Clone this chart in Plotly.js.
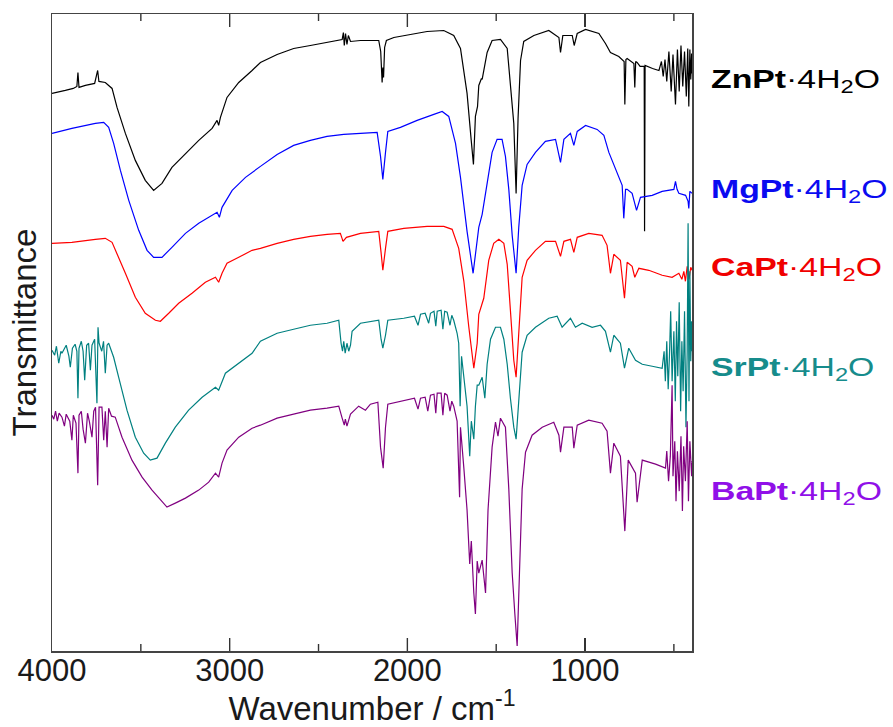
<!DOCTYPE html>
<html>
<head>
<meta charset="utf-8">
<script src="https://cdn.plot.ly/plotly-3.0.1.min.js"></script>
<style>html,body{margin:0;padding:0;background:#fff;}#chart{width:893px;height:727px;}</style>
</head>
<body>
<div id="chart"></div>
<script>
// Sample names (legend labels drawn at the right of the spectra)
const sampleNames = ["ZnPt", "MgPt", "CaPt", "SrPt", "BaPt"];
const hydrate = "·4H<sub>2</sub>O";
const xTickStep = 1000;
const majorTickVals = [3000, 2000, 1000];
const minorTickVals = [3500, 2500, 1500, 500];
const xRange = [4000, 398];
const yRange = [0, 637.5];

// Spectra: [wavenumber (cm-1), transmittance (a.u., offset)]
const znPt = [[4000,558],[3960,560],[3925,561],[3880,563],[3860,565],[3854,579],[3848,564],[3812,566],[3760,568],[3743,581],[3736,570],[3700,569],[3662,563],[3634,544],[3587,518],[3531,491],[3475,471],[3428,461],[3381,468],[3325,484],[3249,498],[3174,511],[3099,523],[3071,531],[3062,526],[3052,534],[3015,554],[2949,569],[2874,581],[2827,589],[2733,597],[2640,603],[2546,606],[2452,609],[2367,612],[2360,619],[2355,606],[2348,618],[2340,607],[2332,616],[2320,610],[2264,611],[2161,611],[2150,600],[2146,575],[2142,569],[2138,584],[2134,574],[2128,604],[2118,611],[2076,614],[1983,617],[1889,620],[1795,621],[1739,616],[1701,603],[1664,558],[1640,510],[1628,487],[1617,535],[1605,545],[1598,566],[1583,573],[1579,572],[1551,599],[1523,611],[1476,612],[1438,603],[1420,566],[1401,528],[1388,458],[1377,533],[1363,591],[1345,610],[1288,616],[1204,621],[1147,614],[1138,599],[1125,616],[1072,616],[1061,606],[1044,618],[997,622],[922,618],[885,608],[857,599],[810,595],[780,590],[776,547],[770,592],[763,593],[725,588],[720,564],[715,590],[707,589],[690,585],[667,585],[665,420],[662,586],[640,584],[620,583],[584,581],[570,590],[560,575],[550,592],[540,570],[528,600],[515,560],[505,597],[491,547],[480,602],[470,560],[460,606],[450,565],[440,600],[430,555],[422,603],[416,545],[410,602],[405,572],[400,598],[397,578]];

const mgPt = [[4000,518],[3888,523],[3756,528],[3709,529],[3681,524],[3653,508],[3615,481],[3568,451],[3512,421],[3465,401],[3428,394],[3381,394],[3325,404],[3249,418],[3174,428],[3099,436],[3071,439],[3058,434],[3043,444],[2986,461],[2911,474],[2827,485],[2733,497],[2640,506],[2546,511],[2452,515],[2358,517],[2264,518],[2170,519],[2151,495],[2138,472],[2123,499],[2110,520],[2039,524],[1945,531],[1851,537],[1804,540],[1767,535],[1729,508],[1701,474],[1664,420],[1630,378],[1607,408],[1598,424],[1579,437],[1551,466],[1523,499],[1495,512],[1467,512],[1448,495],[1429,462],[1410,416],[1388,378],[1373,424],[1354,466],[1326,487],[1279,499],[1223,510],[1166,512],[1138,489],[1119,512],[1082,518],[1063,506],[1044,520],[997,526],[932,522],[894,516],[866,499],[829,483],[791,466],[782,433],[772,462],[763,462],[735,458],[710,441],[688,454],[622,456],[566,460],[500,462],[491,470],[482,462],[472,458],[434,456],[420,450],[416,443],[410,460],[397,458]];

const caPt = [[4000,408],[3888,409],[3756,412],[3700,413],[3662,409],[3634,398],[3587,378],[3531,354],[3475,338],[3418,331],[3390,330],[3343,338],[3287,348],[3212,358],[3137,369],[3080,374],[3062,369],[3043,378],[3015,388],[2949,394],[2874,401],[2827,403],[2733,408],[2640,412],[2546,415],[2452,417],[2377,418],[2362,410],[2343,414],[2264,418],[2161,420],[2148,399],[2138,381],[2123,403],[2110,420],[2020,423],[1889,425],[1795,425],[1748,422],[1711,403],[1682,370],[1654,324],[1626,283],[1607,308],[1598,337],[1570,353],[1542,391],[1514,408],[1485,412],[1457,408],[1438,387],[1420,341],[1401,291],[1388,274],[1373,316],[1354,374],[1326,391],[1279,401],[1223,410],[1166,410],[1138,395],[1119,410],[1082,412],[1063,399],[1044,414],[979,418],[904,416],[876,406],[857,378],[838,397],[801,391],[778,353],[763,389],[735,385],[720,374],[697,383],[641,381],[566,376],[510,374],[472,378],[455,372],[444,380],[435,370],[425,385],[415,372],[405,384],[397,381]];

const srPt = [[4000,301],[3985,296],[3975,305],[3962,288],[3950,300],[3944,298],[3920,306],[3905,295],[3897,284],[3885,303],[3870,307],[3860,300],[3854,253],[3848,303],[3835,310],[3825,300],[3816,271],[3805,306],[3794,308],[3784,281],[3775,306],[3760,312],[3747,248],[3741,324],[3735,308],[3720,300],[3710,310],[3700,278],[3690,306],[3681,308],[3665,300],[3653,294],[3625,274],[3578,241],[3531,214],[3484,198],[3447,191],[3409,193],[3362,208],[3306,224],[3231,241],[3155,254],[3080,264],[3062,261],[3024,278],[2949,288],[2874,298],[2827,310],[2733,318],[2640,322],[2546,326],[2452,328],[2386,331],[2373,308],[2365,300],[2358,310],[2350,298],[2340,308],[2330,300],[2320,306],[2311,320],[2264,328],[2161,331],[2148,312],[2138,303],[2123,316],[2110,331],[2020,333],[1960,335],[1940,326],[1926,337],[1900,338],[1880,328],[1870,338],[1850,340],[1840,325],[1832,340],[1810,341],[1800,322],[1790,340],[1776,339],[1760,326],[1750,336],[1739,331],[1720,318],[1711,308],[1703,245],[1695,295],[1682,274],[1664,245],[1649,195],[1640,230],[1626,212],[1617,245],[1607,266],[1598,266],[1579,274],[1564,253],[1551,287],[1532,312],[1504,324],[1476,324],[1457,312],[1438,287],[1420,253],[1401,224],[1388,212],[1373,249],[1354,299],[1326,316],[1279,324],[1204,333],[1157,335],[1129,324],[1082,333],[1054,324],[1016,328],[960,324],[913,326],[885,320],[857,299],[838,316],[801,308],[778,283],[754,303],[716,291],[678,287],[622,285],[566,283],[555,300],[548,270],[540,310],[532,262],[525,295],[518,340],[510,270],[500,320],[492,250],[485,330],[478,275],[470,349],[462,240],[455,310],[448,260],[440,340],[432,224],[425,300],[420,428],[415,250],[410,380],[405,290],[400,330],[397,300]];

const baPt = [[4000,236],[3990,232],[3980,240],[3970,230],[3960,238],[3944,234],[3930,225],[3920,237],[3900,230],[3888,211],[3880,236],[3865,228],[3854,178],[3848,236],[3835,240],[3825,222],[3812,208],[3800,238],[3790,230],[3775,214],[3765,240],[3755,244],[3743,166],[3735,244],[3719,244],[3709,211],[3700,240],[3690,204],[3681,243],[3665,235],[3644,234],[3606,214],[3550,191],[3493,174],[3437,161],[3390,151],[3353,144],[3306,148],[3249,153],[3174,161],[3118,169],[3080,178],[3062,174],[3043,188],[3015,201],[2949,214],[2874,223],[2827,226],[2733,233],[2640,237],[2546,241],[2452,243],[2386,245],[2367,233],[2355,226],[2349,232],[2340,225],[2320,237],[2274,245],[2236,241],[2208,247],[2166,249],[2151,204],[2136,183],[2123,224],[2110,247],[2020,251],[1960,253],[1940,242],[1926,253],[1900,254],[1885,240],[1870,256],[1850,257],[1840,238],[1832,258],[1810,258],[1800,236],[1790,258],[1776,256],[1760,240],[1750,250],[1739,245],[1720,230],[1706,154],[1701,224],[1682,183],[1664,141],[1649,87],[1640,110],[1626,58],[1617,37],[1607,90],[1598,78],[1579,91],[1560,58],[1546,141],[1523,204],[1504,229],[1490,215],[1476,233],[1448,224],[1429,162],[1410,78],[1395,37],[1382,5],[1369,78],[1354,162],[1335,199],[1298,216],[1241,224],[1176,229],[1147,216],[1138,199],[1119,224],[1072,224],[1063,203],[1044,226],[979,231],[904,228],[876,220],[857,178],[838,208],[801,195],[776,120],[757,191],[716,178],[707,149],[678,191],[603,187],[547,183],[540,200],[530,170],[520,195],[510,266],[505,175],[495,210],[488,150],[480,200],[470,160],[460,215],[452,140],[445,205],[435,170],[425,230],[418,150],[410,210],[400,175],[397,190]];

const seriesData = [znPt, mgPt, caPt, srPt, baPt];
const lineColors = ["#000000", "#0000ff", "#ff0000", "#008080", "#800080"];
const labelColors = ["#000000", "#0a0af0", "#f00000", "#168c8c", "#9010e8"];
const labelY = [571, 461, 383, 283, 159];

const traces = seriesData.map((d, i) => ({
  x: d.map(p => p[0]),
  y: d.map(p => p[1]),
  type: "scatter",
  mode: "lines",
  line: {color: lineColors[i], width: 1.2},
  name: sampleNames[i],
  showlegend: false,
  hoverinfo: "skip"
}));

// inward frame tick marks (bottom and top), drawn on the x scale as a line trace
function tickTrace(vals, len) {
  const xs = [], ys = [];
  vals.forEach(v => {
    xs.push(v, v, null, v, v, null);
    ys.push(yRange[0], yRange[0] + len, null, yRange[1], yRange[1] - len, null);
  });
  return {x: xs, y: ys, type: "scatter", mode: "lines", line: {color: "#333", width: 1.4},
          showlegend: false, hoverinfo: "skip", connectgaps: false};
}
traces.push(tickTrace(majorTickVals, 13));
traces.push(tickTrace(minorTickVals, 7));

const annotations = sampleNames.map((n, i) => ({
  xref: "paper", yref: "y",
  x: 1.0265, y: labelY[i],
  xanchor: "left", yanchor: "middle",
  text: "<b>" + n + "</b>" + hydrate,
  showarrow: false,
  font: {family: "Liberation Sans, Arial, sans-serif", size: 26, color: labelColors[i]}
}));

const layout = {
  width: 893, height: 727,
  margin: {l: 52, r: 201, t: 14, b: 76, pad: 0},
  paper_bgcolor: "#fff", plot_bgcolor: "#fff",
  font: {family: "Liberation Sans, Arial, sans-serif", color: "#1a1a1a"},
  xaxis: {
    range: xRange,
    tickmode: "linear", tick0: 0, dtick: xTickStep,
    ticks: "inside", ticklen: 13, tickwidth: 1.4, tickcolor: "#333",
    showline: true, linecolor: "#444", linewidth: 1.5, mirror: "ticks",
    showgrid: false, zeroline: false,
    ticklabelstandoff: -9,
    tickfont: {size: 31, color: "#1a1a1a"},
    title: {text: "Wavenumber / cm<sup>-1</sup>", font: {size: 33, color: "#1a1a1a"}, standoff: 12}
  },
  yaxis: {
    range: yRange,
    showticklabels: false, ticks: "",
    showline: true, linecolor: "#444", linewidth: 1.5, mirror: true,
    showgrid: false, zeroline: false,
    title: {text: "Transmittance", font: {size: 33, color: "#1a1a1a"}, standoff: 4}
  },
  annotations: annotations
};

Plotly.newPlot("chart", traces, layout, {staticPlot: true, displayModeBar: false}).then(() => {
  // widen the sample labels horizontally to match the reference's wide lettering
  document.querySelectorAll("text.annotation-text").forEach(t => {
    const bb = t.getBBox();
    const x0 = bb.x;
    t.setAttribute("transform", "translate(" + x0 + ",0) scale(1.3,1) translate(" + (-x0) + ",0)");
  });
});
</script>
</body>
</html>
